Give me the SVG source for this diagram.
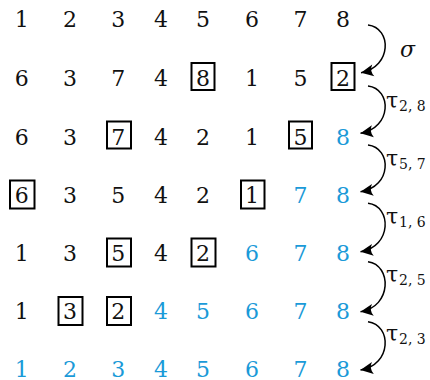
<svg xmlns="http://www.w3.org/2000/svg" width="430" height="380" viewBox="0 0 430 380">
<defs>
<style>
text{font-family:"DejaVu Serif",serif;font-size:22px;fill:#111;text-anchor:middle}
.b{fill:#1a9ad8}
.lbl{text-anchor:start}
.sub{font-size:14px}
.box{fill:none;stroke:#000;stroke-width:2}
.arc{fill:none;stroke:#000;stroke-width:1.5}
</style>
<marker id="ah" viewBox="-1 -7 15 14" refX="12" refY="0" markerWidth="15" markerHeight="14" markerUnits="userSpaceOnUse" orient="auto">
<path d="M12,0 L-0.5,-6 Q3.5,0 -0.5,6 Z" fill="#000"/>
</marker>
</defs>
<rect width="430" height="380" fill="#fff"/>
<g id="row1">
<text x="21.7" y="27">1</text><text x="70" y="27">2</text><text x="118.3" y="27">3</text><text x="161" y="27">4</text><text x="203" y="27">5</text><text x="252" y="27">6</text><text x="300.5" y="27">7</text><text x="343" y="27">8</text>
</g>
<g id="row2">
<text x="21.7" y="86">6</text><text x="70" y="86">3</text><text x="118.3" y="86">7</text><text x="161" y="86">4</text><text x="203" y="86">8</text><text x="252" y="86">1</text><text x="300.5" y="86">5</text><text x="343" y="86">2</text>
<rect class="box" x="191.5" y="63" width="23" height="27"/>
<rect class="box" x="331.5" y="63" width="23" height="27"/>
</g>
<g id="row3">
<text x="21.7" y="144.5">6</text><text x="70" y="144.5">3</text><text x="118.3" y="144.5">7</text><text x="161" y="144.5">4</text><text x="203" y="144.5">2</text><text x="252" y="144.5">1</text><text x="300.5" y="144.5">5</text><text class="b" x="343" y="144.5">8</text>
<rect class="box" x="107" y="121.5" width="24" height="27"/>
<rect class="box" x="289" y="121.5" width="23" height="27"/>
</g>
<g id="row4">
<text x="21.7" y="203">6</text><text x="70" y="203">3</text><text x="118.3" y="203">5</text><text x="161" y="203">4</text><text x="203" y="203">2</text><text x="252" y="203">1</text><text class="b" x="300.5" y="203">7</text><text class="b" x="343" y="203">8</text>
<rect class="box" x="10" y="180.5" width="24.5" height="28"/>
<rect class="box" x="241" y="180.5" width="23.5" height="28"/>
</g>
<g id="row5">
<text x="21.7" y="261">1</text><text x="70" y="261">3</text><text x="118.3" y="261">5</text><text x="161" y="261">4</text><text x="203" y="261">2</text><text class="b" x="252" y="261">6</text><text class="b" x="300.5" y="261">7</text><text class="b" x="343" y="261">8</text>
<rect class="box" x="107" y="238.5" width="24" height="28"/>
<rect class="box" x="191.5" y="238.5" width="24" height="28"/>
</g>
<g id="row6">
<text x="21.7" y="319">1</text><text x="70" y="319">3</text><text x="118.3" y="319">2</text><text class="b" x="161" y="319">4</text><text class="b" x="203" y="319">5</text><text class="b" x="252" y="319">6</text><text class="b" x="300.5" y="319">7</text><text class="b" x="343" y="319">8</text>
<rect class="box" x="58.5" y="297" width="24" height="28"/>
<rect class="box" x="107" y="297" width="24" height="28"/>
</g>
<g id="row7">
<text class="b" x="21.7" y="376.5">1</text><text class="b" x="70" y="376.5">2</text><text class="b" x="118.3" y="376.5">3</text><text class="b" x="161" y="376.5">4</text><text class="b" x="203" y="376.5">5</text><text class="b" x="252" y="376.5">6</text><text class="b" x="300.5" y="376.5">7</text><text class="b" x="343" y="376.5">8</text>
</g>
<g id="connectors">
<path class="arc" marker-end="url(#ah)" d="M368,25 C392,28 392,67 361,72.7"/>
<path class="arc" marker-end="url(#ah)" d="M368,86 C392,89 392,128 360.5,133.3"/>
<path class="arc" marker-end="url(#ah)" d="M368,145 C392,148 392,187 360.5,191.7"/>
<path class="arc" marker-end="url(#ah)" d="M368,203.3 C392,206 392,247 360.5,251.7"/>
<path class="arc" marker-end="url(#ah)" d="M368,261.7 C392,265 392,307 360.5,311.7"/>
<path class="arc" marker-end="url(#ah)" d="M368,321.7 C392,325 392,365 360.5,370"/>
</g>
<g id="labels">
<text class="lbl" x="400" y="56.5" font-style="italic">σ</text>
<text class="lbl" x="386" y="108">τ</text><text class="lbl sub" x="399" y="111">2, 8</text>
<text class="lbl" x="386" y="166">τ</text><text class="lbl sub" x="399" y="169">5, 7</text>
<text class="lbl" x="386" y="224">τ</text><text class="lbl sub" x="399" y="227">1, 6</text>
<text class="lbl" x="386" y="282">τ</text><text class="lbl sub" x="399" y="285">2, 5</text>
<text class="lbl" x="386" y="340.5">τ</text><text class="lbl sub" x="399" y="343.5">2, 3</text>
</g>
</svg>
